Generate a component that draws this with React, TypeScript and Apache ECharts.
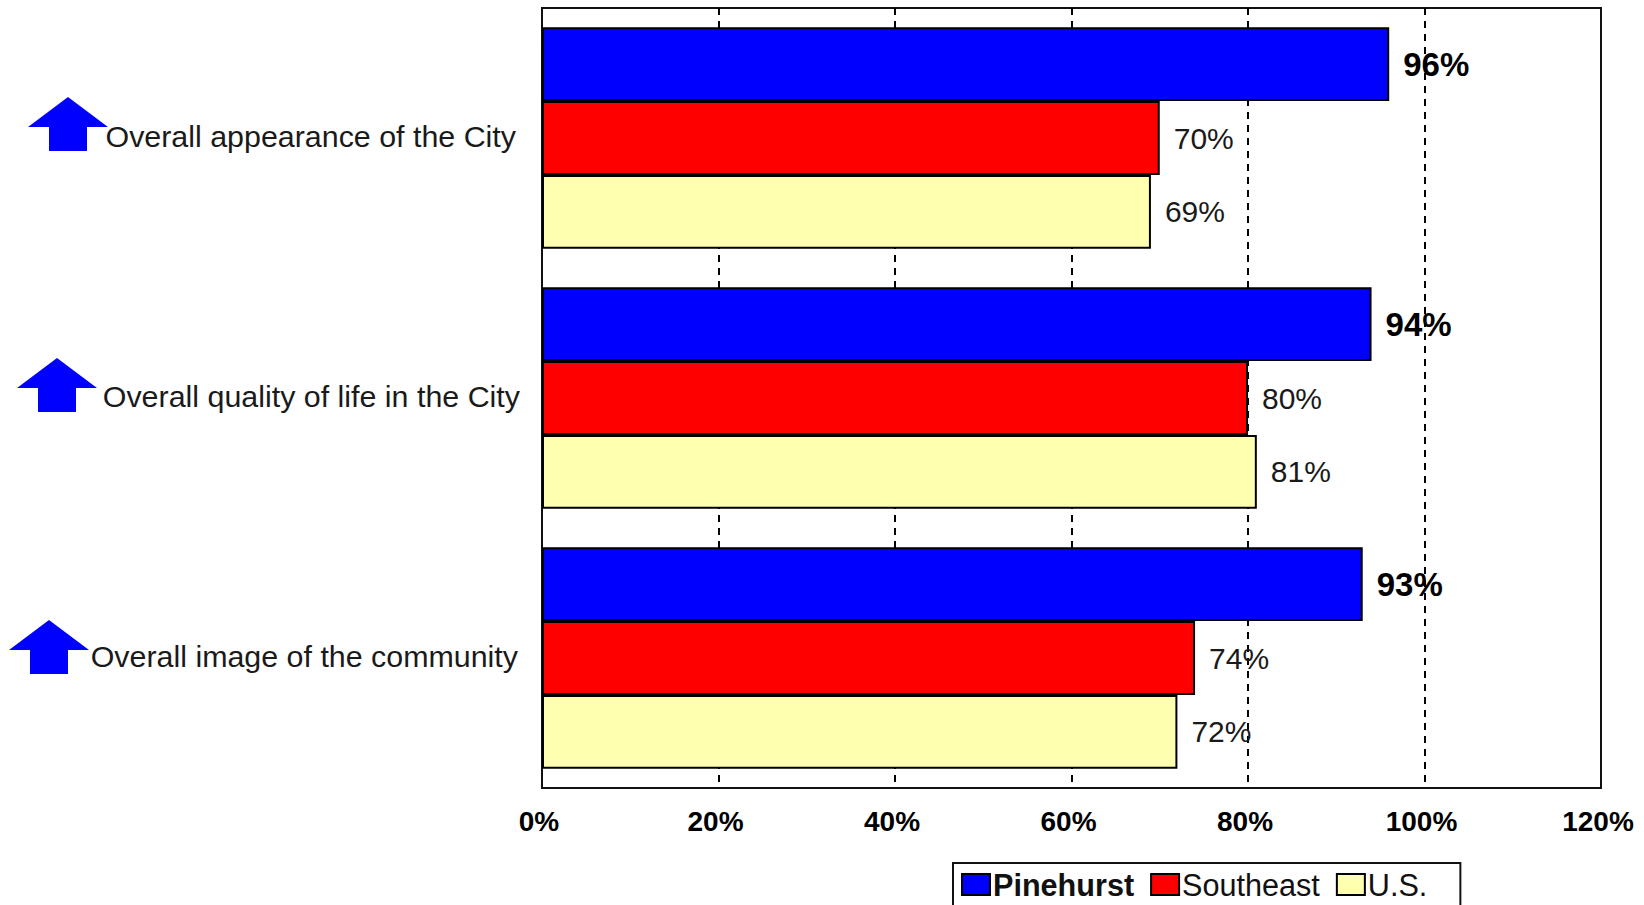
import React, { useEffect, useRef } from "react";
import * as echarts from "echarts";

const categories = [
  "Overall appearance of the City",
  "Overall quality of life in the City",
  "Overall image of the community",
];
const pinehurst = [96, 94, 93];
const southeast = [70, 80, 74];
const us = [69, 81, 72];
const labelRightPadding = [26, 22, 24];
const arrowCentres = [68, 57, 49];
const arrowShifts = [0, 1, 3];
const FONT = "'Liberation Sans', Arial, sans-serif";

export default function App() {
  const ref = useRef<HTMLDivElement>(null);
  useEffect(() => {
    const chart = echarts.init(ref.current!, undefined, { renderer: "svg" });
    const makeSeries = (name: string, data: number[], color: string, bold: boolean) => ({
      name,
      type: "bar" as const,
      data,
      barGap: 0,
      barCategoryGap: "14.9%",
      itemStyle: { color, borderColor: "#000", borderWidth: 2 },
      label: {
        show: true,
        position: "right" as const,
        distance: 14,
        formatter: "{c}%",
        fontFamily: FONT,
        fontSize: bold ? 33 : 30,
        fontWeight: bold ? ("bold" as const) : ("normal" as const),
        color: bold ? "#000" : "#1a1a1a",
      },
    });
    const richLabel = (i: number) => ({
      fontFamily: FONT,
      fontSize: 30.4,
      color: "#1a1a1a",
      padding: [0, labelRightPadding[i], 4, 0],
    });
    chart.setOption({
      animation: false,
      backgroundColor: "#fff",
      grid: {
        left: 542,
        right: 43,
        top: 8,
        bottom: 117,
        show: true,
        borderColor: "#111",
        borderWidth: 2,
        backgroundColor: "#fff",
        containLabel: false,
      },
      xAxis: {
        type: "value",
        min: 0,
        max: 120,
        interval: 20,
        axisLine: { show: false },
        axisTick: { show: false },
        splitLine: {
          show: true,
          showMinLine: false,
          showMaxLine: false,
          lineStyle: { color: "#000", width: 2, type: [7, 6] },
        },
        axisLabel: {
          formatter: "{value}%",
          fontFamily: FONT,
          fontSize: 28,
          fontWeight: "bold",
          color: "#000",
          margin: 19,
          padding: [0, 6, 0, 0],
          hideOverlap: false,
        },
      },
      yAxis: {
        type: "category",
        inverse: true,
        data: categories,
        axisLine: { show: false },
        axisTick: { show: false },
        axisLabel: {
          margin: 0,
          fontFamily: FONT,
          fontSize: 30.4,
          color: "#1a1a1a",
          align: "right",
          formatter: (v: string, i: number) => `{c${i}|${v}}`,
          rich: { c0: richLabel(0), c1: richLabel(1), c2: richLabel(2) },
        },
      },
      legend: {
        left: 953,
        top: 863,
        orient: "horizontal",
        icon: "rect",
        itemWidth: 28,
        itemHeight: 21,
        itemGap: 16,
        padding: [6, 33, 30, 8],
        borderColor: "#111",
        borderWidth: 2,
        backgroundColor: "#fff",
        data: [
          { name: "Pinehurst", textStyle: { fontWeight: "bold" } },
          { name: "Southeast" },
          { name: "U.S." },
        ],
        textStyle: { fontFamily: FONT, fontSize: 30.6, color: "#111", padding: [0, 0, 0, -2] },
      },
      series: [
        makeSeries("Pinehurst", pinehurst, "#0000ff", true),
        makeSeries("Southeast", southeast, "#ff0000", false),
        makeSeries("U.S.", us, "#ffffb0", false),
      ],
    });

    const arrows = categories.map((c, i) => {
      const cy = (chart.convertToPixel({ yAxisIndex: 0 }, c) as number) + arrowShifts[i];
      const cx = arrowCentres[i];
      return {
        type: "polygon",
        silent: true,
        style: { fill: "#0000ff" },
        shape: {
          points: [
            [cx, cy - 41],
            [cx + 40, cy - 11],
            [cx + 19, cy - 11],
            [cx + 19, cy + 13],
            [cx - 19, cy + 13],
            [cx - 19, cy - 11],
            [cx - 40, cy - 11],
          ],
        },
      };
    });
    chart.setOption({ graphic: arrows });
    return () => chart.dispose();
  }, []);
  return (
    <div
      ref={ref}
      style={{ position: "absolute", left: 0, top: 0, width: 1644, height: 905 }}
    />
  );
}
